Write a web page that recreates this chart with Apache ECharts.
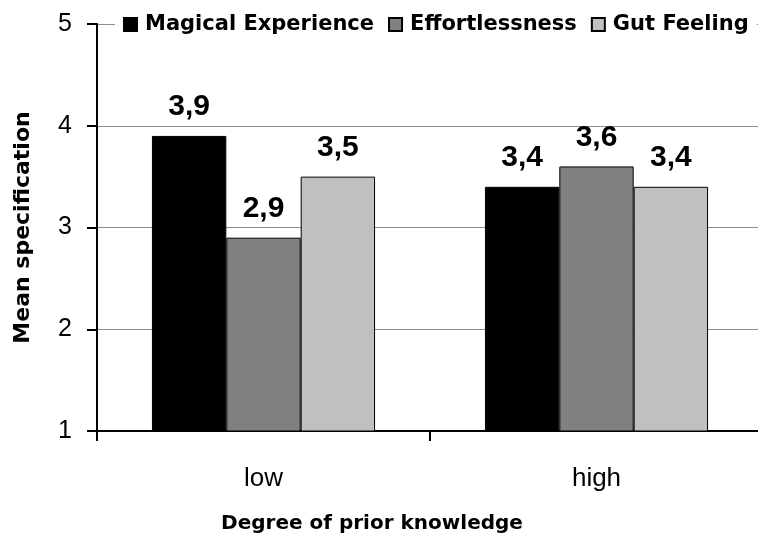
<!DOCTYPE html>
<html>
<head>
<meta charset="utf-8">
<script src="https://cdn.jsdelivr.net/npm/echarts@6/dist/echarts.min.js"></script>
<style>
  html, body { margin: 0; padding: 0; background: #fff; }
  #chart { width: 758px; height: 537px; }
</style>
</head>
<body>
<div id="chart"></div>
<script>
// Prior-knowledge groups on the x axis
const categories = ['low', 'high'];

// Mean ratings per dimension
const magicalExperience = [3.9, 3.4];
const effortlessness = [2.9, 3.6];
const gutFeeling = [3.5, 3.4];

const seriesNames = ['Magical Experience', 'Effortlessness', 'Gut Feeling'];
const seriesColors = ['#000000', '#808080', '#c0c0c0'];

const yTicks = { min: 1, max: 5, interval: 1 };

const chart = echarts.init(document.getElementById('chart'));

const labelStyle = {
  show: true,
  position: 'top',
  distance: 14,
  fontFamily: 'Liberation Sans, Arial, sans-serif',
  fontWeight: 'bold',
  fontSize: 30,
  color: '#000',
  formatter: p => String(p.value).replace('.', ',')
};

function makeSeries(name, values, color) {
  return {
    name: name,
    type: 'bar',
    data: values,
    barGap: '0%',
    barCategoryGap: '33%',
    itemStyle: { color: color, borderColor: '#000', borderWidth: 1 },
    label: labelStyle
  };
}

chart.setOption({
  animation: false,
  backgroundColor: '#fff',
  title: {
    text: 'Degree of prior knowledge',
    left: 367,
    textAlign: 'center',
    top: 509,
    textStyle: {
      fontFamily: 'DejaVu Sans, sans-serif',
      fontWeight: 'bold',
      fontSize: 20,
      color: '#000'
    }
  },
  grid: {
    left: 97, top: 24, width: 666, height: 407,
    containLabel: false,
    outerBoundsMode: 'none'
  },
  legend: {
    left: 115,
    top: 10,
    width: 700,
    padding: [4, 8, 4, 8],
    backgroundColor: '#fff',
    itemWidth: 13,
    itemHeight: 13,
    itemGap: 14,
    icon: 'rect',
    data: seriesNames,
    textStyle: {
      fontFamily: 'DejaVu Sans, sans-serif',
      fontWeight: 'bold',
      fontSize: 21,
      color: '#000',
      padding: [0, 0, 0, 3]
    }
  },
  xAxis: {
    type: 'category',
    data: categories,
    axisLine: { lineStyle: { color: '#000', width: 2 } },
    axisTick: { show: true, alignWithLabel: false, length: 10, lineStyle: { color: '#000', width: 2 } },
    axisLabel: {
      margin: 35,
      fontFamily: 'Liberation Sans, Arial, sans-serif',
      fontSize: 26,
      color: '#000'
    }
  },
  yAxis: {
    type: 'value',
    min: yTicks.min,
    max: yTicks.max,
    interval: yTicks.interval,
    name: 'Mean specification',
    nameLocation: 'middle',
    nameRotate: 90,
    nameGap: 63,
    nameTextStyle: {
      fontFamily: 'DejaVu Sans, sans-serif',
      fontWeight: 'bold',
      fontSize: 22,
      color: '#000'
    },
    axisLine: { show: true, lineStyle: { color: '#000', width: 2 } },
    axisTick: { show: true, length: 10, lineStyle: { color: '#000', width: 2 } },
    axisLabel: {
      margin: 25,
      fontFamily: 'Liberation Sans, Arial, sans-serif',
      fontSize: 25,
      color: '#000'
    },
    splitLine: { show: true, lineStyle: { color: '#8c8c8c', width: 1 } }
  },
  series: [
    makeSeries(seriesNames[0], magicalExperience, seriesColors[0]),
    makeSeries(seriesNames[1], effortlessness, seriesColors[1]),
    makeSeries(seriesNames[2], gutFeeling, seriesColors[2])
  ]
});
</script>
</body>
</html>
